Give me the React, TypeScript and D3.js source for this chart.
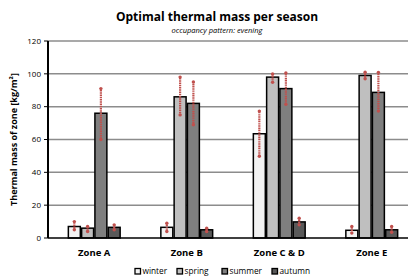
import React from "react";
import * as d3 from "d3";

const zones = ["Zone A", "Zone B", "Zone C & D", "Zone E"];
const seasons = ["winter", "spring", "summer", "autumn"];

// mean values per season, one entry per zone
const winter = [7, 6.5, 63.5, 4.7];
const spring = [6, 86, 98, 99];
const summer = [76, 82, 91, 88.7];
const autumn = [6.5, 5, 9.8, 5];

// error ranges [low, high]
const winterErr = [[5, 10], [4, 9], [49.8, 77.3], [3, 7]];
const springErr = [[4, 7], [75, 98], [94.8, 99.9], [97, 101]];
const summerErr = [[60, 91], [69, 95], [81.4, 100.5], [77.3, 100.9]];
const autumnErr = [[5, 8], [4, 6], [8, 12], [3.5, 7]];

const yTicks = [0, 20, 40, 60, 80, 100, 120];

const seasonColors = ["#f2f2f2", "#bfbfbf", "#7f7f7f", "#595959"];

const W = 408;
const H = 279;
const margin = { top: 41, left: 48, bottom: 41 };
const plotRight = 418;

const App: React.FC = () => {
    const values = [winter, spring, summer, autumn];
    const errs = [winterErr, springErr, summerErr, autumnErr];
    const font = "'Open Sans', 'Liberation Sans', sans-serif";

    const x = d3.scaleBand<string>()
        .domain(zones)
        .range([margin.left, plotRight])
        .paddingInner(0.44)
        .paddingOuter(0.22);

    const xs = d3.scaleBand<string>()
        .domain(seasons)
        .range([0, x.bandwidth()])
        .paddingInner(0.1);

    const y = d3.scaleLinear()
        .domain([0, 120])
        .range([H - margin.bottom, margin.top]);

    return (
        <svg width={W} height={H} style={{ position: "absolute", left: 0, top: 0, fontFamily: font }}>
            <rect width={W} height={H} fill="#fff" />
            <text x={217} y={21} textAnchor="middle" fontWeight="bold" fontSize={12} fill="#000">
                Optimal thermal mass per season
            </text>
            <text x={217} y={33} textAnchor="middle" fontStyle="italic" fontSize={7.5} fill="#000">
                occupancy pattern: evening
            </text>

            {/* gridlines */}
            {yTicks.filter(t => t > 0).map(t => (
                <line key={t} x1={margin.left} x2={plotRight} y1={y(t)} y2={y(t)}
                    stroke="#8c8c8c" strokeWidth={1.5} />
            ))}

            {/* y axis */}
            {yTicks.map(t => (
                <g key={t}>
                    <line x1={margin.left - 4} x2={margin.left} y1={y(t)} y2={y(t)} stroke="#000" strokeWidth={1} />
                    <text x={41} y={y(t)} dy="0.35em" textAnchor="end" fontSize={8} fill="#000">{t}</text>
                </g>
            ))}
            <text transform={`translate(17,${y(60)}) rotate(-90)`} textAnchor="middle"
                fontWeight="bold" fontSize={9} fill="#000">
                Thermal mass of zone [kg/m²]
            </text>

            {/* bars */}
            {zones.map((z, zi) => (
                <g key={z} transform={`translate(${x(z)},0)`}>
                    {seasons.map((s, si) => {
                        const v = values[si][zi];
                        return (
                            <rect key={s} x={xs(s)} y={y(v)} width={xs.bandwidth()}
                                height={y(0) - y(v)} fill={seasonColors[si]}
                                stroke="#000" strokeWidth={1.5} />
                        );
                    })}
                    {seasons.map((s, si) => {
                        const [lo, hi] = errs[si][zi];
                        const cx = (xs(s) as number) + xs.bandwidth() / 2;
                        return (
                            <g key={s + "e"}>
                                <line x1={cx} x2={cx} y1={y(lo)} y2={y(hi)} stroke="#c0504d"
                                    strokeWidth={2.2} strokeDasharray="1.2,0.6" />
                                <circle cx={cx} cy={y(lo)} r={1.7} fill="#c0504d" />
                                <circle cx={cx} cy={y(hi)} r={1.7} fill="#c0504d" />
                            </g>
                        );
                    })}
                </g>
            ))}

            <line x1={margin.left} x2={margin.left} y1={y(120)} y2={y(0)} stroke="#000" strokeWidth={2} />
            <line x1={margin.left} x2={plotRight} y1={y(0)} y2={y(0)} stroke="#000" strokeWidth={1.5} />

            {/* category labels */}
            {zones.map(z => (
                <text key={z} x={(x(z) as number) + x.bandwidth() / 2} y={256} textAnchor="middle"
                    fontWeight="bold" fontSize={9.5} fill="#000">{z}</text>
            ))}

            {/* legend */}
            {seasons.map((s, si) => {
                const lx = [135, 177, 222, 272][si];
                return (
                    <g key={s}>
                        <rect x={lx} y={268.5} width={5.5} height={5.5} fill={seasonColors[si]}
                            stroke="#000" strokeWidth={1.3} />
                        <text x={lx + 7.5} y={271.5} dy="0.35em" fontSize={8.3} fill="#000">{s}</text>
                    </g>
                );
            })}
        </svg>
    );
};

export default App;
